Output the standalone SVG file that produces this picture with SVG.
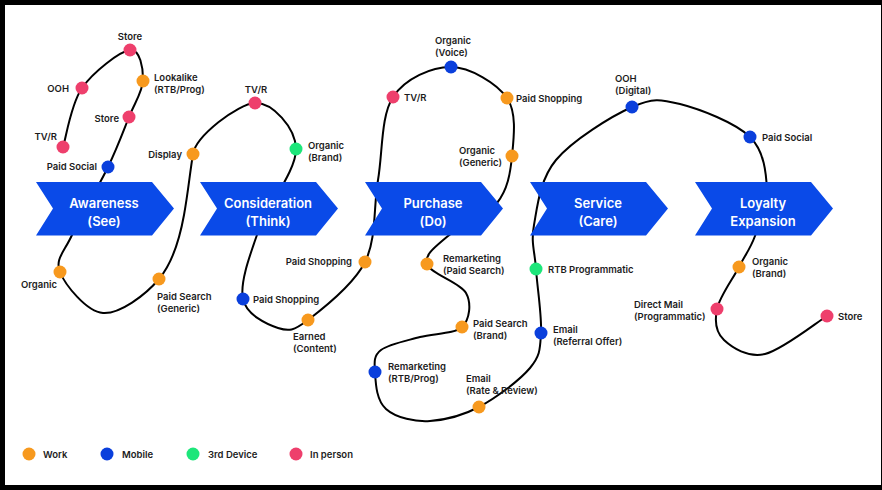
<svg xmlns="http://www.w3.org/2000/svg" width="882" height="490" viewBox="0 0 882 490">
<style>
.stage{fill:#0A4AE8}
.st{fill:#fff;font-family:Inter,"Noto Sans",sans-serif;font-size:13px;font-weight:600;text-anchor:middle}
.l{fill:#1c1c1c;font-family:Inter,"Noto Sans",sans-serif;font-size:9.5px;font-weight:600}
.e{text-anchor:end}
.c{text-anchor:middle}
.w{fill:#F7991E}
.m{fill:#0A3FDC}
.g{fill:#1DE67A}
.p{fill:#EE3F6C}
.path{fill:none;stroke:#000;stroke-width:2;stroke-linecap:round}
</style>
<defs>
<polygon id="chev" points="0,182 116,182 138,208.5 116,235.5 0,235.5 17,208.5"/>
</defs>
<rect x="0" y="0" width="882" height="490" fill="#000"/>
<rect x="5" y="5" width="876" height="480" fill="#fff"/>
<g id="connectors">
<path class="path" d="M63,147 C66.2,137.2 70.8,104.2 82,88 S119.8,51.3 130,50 S143.2,68.8 143,80 S134.8,102.5 129,117 S117.5,147.3 108,167 S80,217.5 72,235 S54.8,259 60,272 S86.5,311.8 103,313 S145.3,295.3 159,279 S180,237 184,215 S190,172 193,154 S237.8,103.8 255,103 S295.5,127.5 296,149 S266.8,207 258,232 S239.7,283 243,299 S267.2,324.5 278,328 S293.5,331 308,320 S353.3,285.3 365,262 S373.3,207.5 378,180 S380.8,115.8 393,97 S432,66.8 451,67 S496.8,83.2 507,98 S513.7,138.5 512,156 S507.7,189.7 497,203 S459.7,225.8 448,236 S424,254.5 427,264 S460.2,282.5 466,293 S469.7,319.7 462,327 S433.5,333.2 420,337 S388.5,344.2 381,350 S374.3,362.3 375,372 S375.8,399.8 386,409 S416,422 430,421 S462.3,415.8 479,407 S519.7,380.3 530,368 S540,349.5 541,333 S537.2,287 536,269 S530.7,243.2 534,225 S539.7,179.7 556,160 S611.3,116.3 632,107 S660.3,99 680,104 S735.5,122.7 750,137 S766.2,173.5 767,190 S759.7,223.2 755,236 S745.3,254.8 739,267 S719.5,296.8 717,309 S716,332.5 724,340 S747.8,358 765,354 S816.7,322.3 827,316"/>
</g>
<g id="stage-awareness"><use href="#chev" class="stage" x="36"/><text class="st" x="104" y="207.7">Awareness</text><text class="st" x="104" y="225.7">(See)</text></g>
<g id="stage-consideration"><use href="#chev" class="stage" x="200"/><text class="st" x="268" y="207.7">Consideration</text><text class="st" x="268" y="225.7">(Think)</text></g>
<g id="stage-purchase"><use href="#chev" class="stage" x="365"/><text class="st" x="433" y="207.7">Purchase</text><text class="st" x="433" y="225.7">(Do)</text></g>
<g id="stage-service"><use href="#chev" class="stage" x="530"/><text class="st" x="598" y="207.7">Service</text><text class="st" x="598" y="225.7">(Care)</text></g>
<g id="stage-loyalty"><use href="#chev" class="stage" x="695"/><text class="st" x="763" y="207.7">Loyalty</text><text class="st" x="763" y="225.7">Expansion</text></g>

<g id="n-tvr1"><circle class="p" cx="63" cy="147" r="6.5"/><text class="l e" x="57" y="139.5">TV/R</text></g>
<g id="n-ooh1"><circle class="p" cx="82" cy="88" r="6.5"/><text class="l e" x="69" y="91.5">OOH</text></g>
<g id="n-store1"><circle class="p" cx="130" cy="50" r="6.5"/><text class="l c" x="130" y="39.5">Store</text></g>
<g id="n-lookalike"><circle class="w" cx="143" cy="81" r="6.5"/><text class="l" x="154" y="80.5">Lookalike</text><text class="l" x="154" y="92.5">(RTB/Prog)</text></g>
<g id="n-store2"><circle class="p" cx="129" cy="117" r="6.5"/><text class="l e" x="119" y="121.5">Store</text></g>
<g id="n-paidsocial1"><circle class="m" cx="108" cy="167" r="6.5"/><text class="l e" x="97" y="169.5">Paid Social</text></g>
<g id="n-organic1"><circle class="w" cx="60" cy="272" r="6.5"/><text class="l e" x="57" y="287.5">Organic</text></g>
<g id="n-paidsearch1"><circle class="w" cx="159" cy="279" r="6.5"/><text class="l" x="157" y="299.5">Paid Search</text><text class="l" x="157" y="311.5">(Generic)</text></g>
<g id="n-display"><circle class="w" cx="193" cy="154" r="6.5"/><text class="l e" x="182" y="157.5">Display</text></g>
<g id="n-tvr2"><circle class="p" cx="255" cy="103" r="6.5"/><text class="l c" x="256" y="92.5">TV/R</text></g>
<g id="n-organicbrand1"><circle class="g" cx="296" cy="149" r="6.5"/><text class="l" x="308" y="148.5">Organic</text><text class="l" x="308" y="160.5">(Brand)</text></g>
<g id="n-paidshopping1"><circle class="m" cx="243" cy="299" r="6.5"/><text class="l" x="253" y="302.5">Paid Shopping</text></g>
<g id="n-earned"><circle class="w" cx="308" cy="320" r="6.5"/><text class="l" x="293" y="339.5">Earned</text><text class="l" x="293" y="351.5">(Content)</text></g>
<g id="n-paidshopping2"><circle class="w" cx="365" cy="262" r="6.5"/><text class="l e" x="352" y="264.5">Paid Shopping</text></g>
<g id="n-tvr3"><circle class="p" cx="393" cy="97" r="6.5"/><text class="l" x="404" y="100.5">TV/R</text></g>
<g id="n-organicvoice"><circle class="m" cx="451" cy="67" r="6.5"/><text class="l" x="435" y="43.5">Organic</text><text class="l" x="435" y="55.5">(Voice)</text></g>
<g id="n-paidshopping3"><circle class="w" cx="507" cy="98" r="6.5"/><text class="l" x="516" y="101.5">Paid Shopping</text></g>
<g id="n-organicgeneric"><circle class="w" cx="512" cy="156" r="6.5"/><text class="l" x="459" y="153.5">Organic</text><text class="l" x="459" y="165.5">(Generic)</text></g>
<g id="n-remarketing1"><circle class="w" cx="427" cy="264" r="6.5"/><text class="l" x="443" y="261.5">Remarketing</text><text class="l" x="443" y="273.5">(Paid Search)</text></g>
<g id="n-paidsearchbrand"><circle class="w" cx="462" cy="327" r="6.5"/><text class="l" x="473" y="326.5">Paid Search</text><text class="l" x="473" y="338.5">(Brand)</text></g>
<g id="n-remarketing2"><circle class="m" cx="375" cy="372" r="6.5"/><text class="l" x="388" y="369.5">Remarketing</text><text class="l" x="388" y="381.5">(RTB/Prog)</text></g>
<g id="n-emailrate"><circle class="w" cx="479" cy="407" r="6.5"/><text class="l" x="466" y="381.5">Email</text><text class="l" x="466" y="393.5">(Rate &amp; Review)</text></g>
<g id="n-emailreferral"><circle class="m" cx="541" cy="333" r="6.5"/><text class="l" x="553" y="332.5">Email</text><text class="l" x="553" y="344.5">(Referral Offer)</text></g>
<g id="n-rtb"><circle class="g" cx="536" cy="269" r="6.5"/><text class="l" x="548" y="272.5">RTB Programmatic</text></g>
<g id="n-oohdigital"><circle class="m" cx="632" cy="107" r="6.5"/><text class="l" x="615" y="81.5">OOH</text><text class="l" x="615" y="93.5">(Digital)</text></g>
<g id="n-paidsocial2"><circle class="m" cx="750" cy="137" r="6.5"/><text class="l" x="762" y="140.5">Paid Social</text></g>
<g id="n-organicbrand2"><circle class="w" cx="739" cy="267" r="6.5"/><text class="l" x="752" y="264.5">Organic</text><text class="l" x="752" y="276.5">(Brand)</text></g>
<g id="n-directmail"><circle class="p" cx="717" cy="309" r="6.5"/><text class="l" x="634" y="307.5">Direct Mail</text><text class="l" x="634" y="319.5">(Programmatic)</text></g>
<g id="n-store3"><circle class="p" cx="827" cy="316" r="6.5"/><text class="l" x="838" y="319.5">Store</text></g>

<g id="legend">
<circle class="w" cx="29" cy="454" r="6.5"/><text class="l" x="43" y="457.5">Work</text>
<circle class="m" cx="107" cy="454" r="6.5"/><text class="l" x="122" y="457.5">Mobile</text>
<circle class="g" cx="193" cy="454" r="6.5"/><text class="l" x="208" y="457.5">3rd Device</text>
<circle class="p" cx="296" cy="454" r="6.5"/><text class="l" x="310" y="457.5">In person</text>
</g>
</svg>
